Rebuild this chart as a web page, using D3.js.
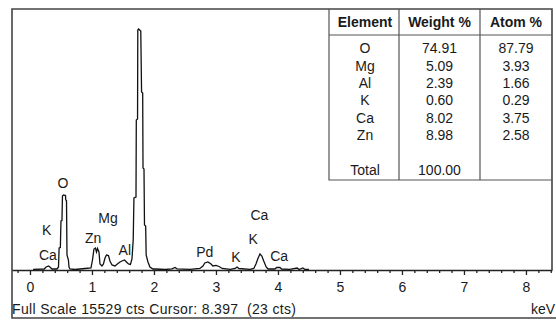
<!DOCTYPE html>
<html>
<head>
<meta charset="utf-8">
<script src="https://cdnjs.cloudflare.com/ajax/libs/d3/7.8.5/d3.min.js"></script>
<style>
  body { margin: 0; background: #fff; }
  svg text { font-family: Arial, "Liberation Sans", sans-serif; fill: #1a1a1a; }
</style>
</head>
<body>
<div id="chart"></div>
<script>
// spectrum (keV / counts)
const energy = [0.05, 0.23, 0.26, 0.30, 0.33, 0.355, 0.435, 0.46, 0.47, 0.49, 0.50, 0.516, 0.524, 0.54, 0.573, 0.577, 0.589, 0.597, 0.62, 0.629, 0.645,
  0.726, 0.887, 0.984, 1.008, 1.032, 1.056, 1.073, 1.089, 1.113, 1.129, 1.161, 1.185, 1.21, 1.234, 1.266, 1.29, 1.323,
  1.371, 1.42, 1.452, 1.484, 1.524, 1.556, 1.589, 1.62, 1.645, 1.665, 1.677, 1.71, 1.715, 1.735, 1.739, 1.752, 1.787,
  1.80, 1.818, 1.823, 1.839, 1.847, 1.866, 1.874, 1.903, 1.935, 1.984, 2.016, 2.18, 2.29, 2.34, 2.37, 2.58, 2.74, 2.79,
  2.82, 2.87, 2.92, 2.95, 3.00, 3.05, 3.10, 3.23, 3.31, 3.34, 3.37, 3.55, 3.61, 3.645, 3.68, 3.71, 3.74, 3.77, 3.81,
  3.84, 3.95, 3.98, 4.03, 4.06, 4.19, 4.31, 4.34, 4.40, 4.44, 4.50];
const counts = [40, 60, 180, 240, 150, 60, 60, 180, 1314, 1344, 2927, 2957, 4420, 4480, 4450, 4181, 4150, 896, 597, 180, 60,
  30, 90, 120, 597, 1254, 1314, 1075, 1284, 1075, 358, 240, 358, 717, 896, 866, 538, 300,
  240, 388, 478, 538, 597, 478, 358, 330, 657, 1792, 4300, 4360, 8960, 9020, 14335, 14395, 14275,
  10630, 10570, 6090, 6030, 2690, 2630, 900, 480, 180, 60, 60, 30, 70, 150, 70, 40, 90, 240,
  420, 480, 360, 240, 270, 210, 90, 40, 90, 180, 90, 40, 90, 360, 720, 955, 835, 540, 180,
  60, 60, 150, 150, 60, 40, 120, 30, 120, 30, 30];

// peak markers
const peakNames = ["K", "Ca", "O", "Zn", "Mg", "Al", "Pd", "K", "K", "Ca", "Ca"];
const peakKeV = [0.27, 0.29, 0.53, 1.02, 1.26, 1.53, 2.82, 3.32, 3.60, 3.70, 4.02];
const peakLevel = [2390, 890, 5170, 1910, 3090, 1190, 1090, 800, 1830, 3280, 840];

const majorTicks = [0, 1, 2, 3, 4, 5, 6, 7, 8];
const fullScale = 15529;
const footer = "Full Scale 15529 cts Cursor: 8.397  (23 cts)";

// quantification table
const tableHead = ["Element", "Weight %", "Atom %"];
const elements = ["O", "Mg", "Al", "K", "Ca", "Zn"];
const weightPct = ["74.91", "5.09", "2.39", "0.60", "8.02", "8.98"];
const atomPct = ["87.79", "3.93", "1.66", "0.29", "3.75", "2.58"];
const totalRow = ["Total", "100.00", ""];

let w = 556, h = 323;
let padL = 12, padR = 552, padT = 9, axisY = 270, padB = 318;

let svg = d3.select("#chart").append("svg")
  .attr("width", w).attr("height", h);

let x = d3.scaleLinear().domain([-0.29, 8.42]).range([padL, padR]);
let y = d3.scaleLinear().domain([0, fullScale]).range([axisY, padT + 1]);

// frame
svg.append("path")
  .attr("d", "M" + padR + "," + axisY + "V" + padT + "H" + padL + "V" + padB + "H" + w)
  .attr("fill", "none").attr("stroke", "#444").attr("stroke-width", 1.6);

// table
let tx = [329, 399, 480, 552];
let ty0 = padT, tyHead = 35, ty1 = 180;
let tg = svg.append("g");
tg.append("path")
  .attr("d", "M" + tx[0] + "," + ty0 + "V" + ty1 + "H" + tx[3]
    + "M" + tx[0] + "," + tyHead + "H" + tx[3]
    + "M" + tx[1] + "," + ty0 + "V" + ty1
    + "M" + tx[2] + "," + ty0 + "V" + ty1)
  .attr("fill", "none").attr("stroke", "#555").attr("stroke-width", 1.2);
let colX = [0, 1, 2].map(i => (tx[i] + tx[i + 1]) / 2 + (i === 0 ? 1 : 0));
tableHead.forEach((t, i) => {
  tg.append("text").attr("x", colX[i]).attr("y", 22)
    .attr("text-anchor", "middle").attr("dominant-baseline", "central")
    .attr("font-size", "14px").attr("font-weight", "bold").text(t);
});
let rows = elements.map((e, i) => [e, weightPct[i], atomPct[i]]);
rows.forEach((r, j) => {
  r.forEach((t, i) => {
    tg.append("text").attr("x", colX[i]).attr("y", 48.3 + j * 17.35)
      .attr("text-anchor", "middle").attr("dominant-baseline", "central")
      .attr("font-size", "14px").text(t);
  });
});
totalRow.forEach((t, i) => {
  tg.append("text").attr("x", colX[i]).attr("y", 170)
    .attr("text-anchor", "middle").attr("dominant-baseline", "central")
    .attr("font-size", "14px").text(t);
});

// axes: minor ticks every 0.2 keV, labelled majors
let minorTicks = d3.range(-0.2, 8.41, 0.2).filter(v => Math.abs(v - Math.round(v)) > 0.01);
let minorAxis = d3.axisBottom(x).tickValues(minorTicks).tickSize(3).tickSizeOuter(0).tickFormat("");
let majorAxis = d3.axisBottom(x).tickValues(majorTicks).tickSize(5).tickSizeOuter(0).tickPadding(7).tickFormat(d3.format("d"));
let gMinor = svg.append("g").attr("transform", "translate(0," + axisY + ")").call(minorAxis);
gMinor.select(".domain").remove();
let gMajor = svg.append("g").attr("transform", "translate(0," + axisY + ")").call(majorAxis);
svg.selectAll(".tick line").attr("stroke", "#222").attr("stroke-width", 1.3);
gMajor.select(".domain").attr("stroke", "#222").attr("stroke-width", 1.6);
gMajor.selectAll("text").attr("font-size", "14px").attr("font-family", null).attr("fill", "#1a1a1a");

// spectrum
let line = d3.line().x((d, i) => x(energy[i])).y(d => y(d));
svg.append("path").datum(counts)
  .attr("d", line)
  .attr("fill", "none").attr("stroke", "#111").attr("stroke-width", 1.3)
  .attr("stroke-linejoin", "miter");

// peak labels
peakNames.forEach((n, i) => {
  svg.append("text").attr("x", x(peakKeV[i])).attr("y", y(peakLevel[i]))
    .attr("text-anchor", "middle").attr("dominant-baseline", "central")
    .attr("font-size", "14px").text(n);
});

// footer
svg.append("text").attr("x", 12).attr("y", 309)
  .attr("dominant-baseline", "central").attr("font-size", "14px")
  .attr("textLength", 284).attr("lengthAdjust", "spacing")
  .style("white-space", "pre").text(footer);
svg.append("text").attr("x", 555).attr("y", 309)
  .attr("text-anchor", "end").attr("dominant-baseline", "central")
  .attr("font-size", "14px").text("keV");
</script>
</body>
</html>
